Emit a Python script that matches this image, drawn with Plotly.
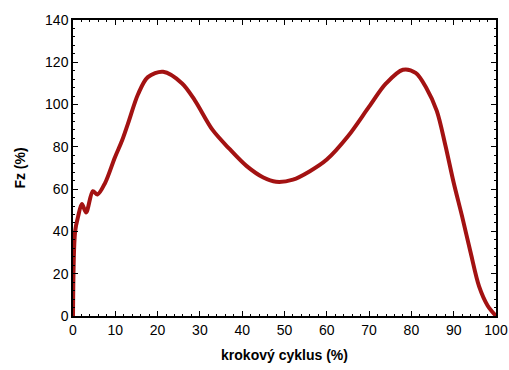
import plotly.graph_objects as go

cycle = [0, 0.5, 1.2, 2.1, 3.1, 4.7, 5.8, 7.6, 9.9, 11.6, 13, 15.4, 17.7, 21.3, 25.8, 28.8, 33, 37, 41, 45, 48, 52, 56, 60, 65, 70, 74, 78, 81, 83.5, 86, 88, 90, 92, 94, 96, 98, 100]
fz = [0, 40, 47, 53, 49, 59, 57.5, 63, 75, 83, 91, 105, 113, 115.5, 110, 102, 88, 79, 71, 65.5, 63.5, 64.5, 68.5, 74, 85, 99, 110, 116.5, 115, 108, 97, 81, 63, 47, 30, 14, 5, 0]

x_ticks = list(range(0, 101, 10))
y_ticks = list(range(0, 141, 20))

fig = go.Figure()
fig.add_trace(go.Scatter(x=cycle, y=fz, mode="lines",
                         line=dict(color="#a31212", width=4, shape="spline", smoothing=0.9)))

font = dict(family="Liberation Sans, Arial", size=14, color="black")
axis_common = dict(showline=True, linecolor="black", linewidth=1.5, mirror="ticks",
                   ticks="inside", ticklen=5, tickcolor="black", showgrid=False, zeroline=False,
                   tickfont=font, automargin=False)
fig.update_xaxes(range=[0, 100], tickvals=x_ticks,
                 minor=dict(dtick=2, ticks="inside", ticklen=2, tickcolor="black"),
                 title=dict(text="<b>krokový cyklus (%)</b>", font=font, standoff=14), **axis_common)
fig.update_yaxes(range=[0, 140], tickvals=y_ticks,
                 minor=dict(dtick=4, ticks="inside", ticklen=2, tickcolor="black"),
                 title=dict(text="<b>Fz (%)</b>", font=font, standoff=16), **axis_common)
fig.update_layout(width=509, height=370, margin=dict(l=73, r=13, t=20, b=54),
                  plot_bgcolor="white", paper_bgcolor="white", showlegend=False)
fig.write_html("out.html", config={"displayModeBar": False},
               post_script="document.body.style.margin='0px';document.body.style.overflow='hidden';")
